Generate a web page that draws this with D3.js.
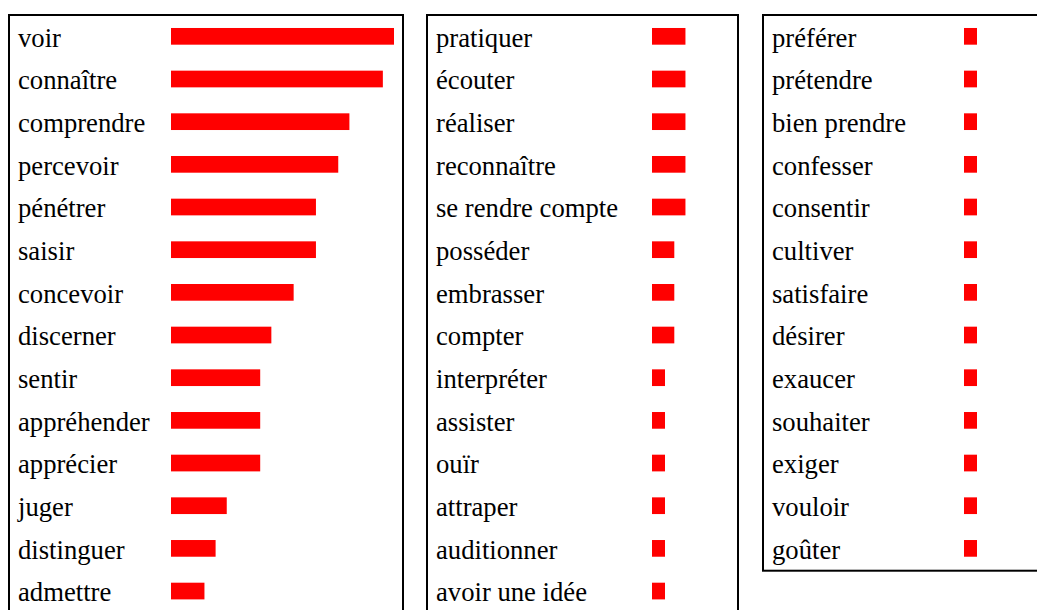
<!DOCTYPE html>
<html>
<head>
<meta charset="utf-8">
<script src="https://cdn.jsdelivr.net/npm/d3@7"></script>
<style>
  html, body { margin: 0; padding: 0; background: #fff; overflow: hidden; }
  text { font-size: 26.67px; fill: #000; }
</style>
</head>
<body>
<div id="chart"></div>
<script>
const words1 = ["voir", "connaître", "comprendre", "percevoir", "pénétrer", "saisir", "concevoir",
  "discerner", "sentir", "appréhender", "apprécier", "juger", "distinguer", "admettre"];
const values1 = [20, 19, 16, 15, 13, 13, 11, 9, 8, 8, 8, 5, 4, 3];

const words2 = ["pratiquer", "écouter", "réaliser", "reconnaître", "se rendre compte", "posséder",
  "embrasser", "compter", "interpréter", "assister", "ouïr", "attraper", "auditionner", "avoir une idée"];
const values2 = [3, 3, 3, 3, 3, 2, 2, 2, 1, 1, 1, 1, 1, 1];

const words3 = ["préférer", "prétendre", "bien prendre", "confesser", "consentir", "cultiver",
  "satisfaire", "désirer", "exaucer", "souhaiter", "exiger", "vouloir", "goûter"];
const values3 = [1, 1, 1, 1, 1, 1, 1, 1, 1, 1, 1, 1, 1];

const width = 1037;
const height = 610;
const rowH = 42.67;
const boxTop = 15;
const barH = 16.7;

const svg = d3.select("#chart")
  .append("svg")
  .attr("width", width)
  .attr("height", height);

// same scale for every panel so bar lengths compare across boxes
const x = d3.scaleLinear().domain([0, 20]).range([0, 223]);

const panels = [
  { words: words1, values: values1, left: 9, w: 394, barX: 162 },
  { words: words2, values: values2, left: 427, w: 311, barX: 225 },
  { words: words3, values: values3, left: 763, w: 300, barX: 201 }
];

panels.forEach(p => {
  const n = p.words.length;
  const y = d3.scaleBand()
    .domain(d3.range(n))
    .range([boxTop, boxTop + n * rowH])
    .padding(0);

  const g = svg.append("g");

  g.append("rect")
    .attr("x", p.left)
    .attr("y", boxTop)
    .attr("width", p.w)
    .attr("height", n * rowH + 1)
    .attr("fill", "none")
    .attr("stroke", "#000")
    .attr("stroke-width", 2);

  g.selectAll("text")
    .data(p.words)
    .join("text")
      .attr("x", p.left + 9)
      .attr("y", (d, i) => y(i) + y.bandwidth() / 2 + 10.3)
      .attr("font-family", "'Liberation Serif', Tinos, 'Times New Roman', Times, 'DejaVu Serif', serif")
      .text(d => d);

  g.selectAll("rect.bar")
    .data(p.values)
    .join("rect")
      .attr("class", "bar")
      .attr("x", p.left + p.barX)
      .attr("y", (d, i) => y(i) + y.bandwidth() / 2 - barH / 2)
      .attr("width", d => Math.max(13, x(d)))
      .attr("height", barH)
      .attr("fill", "#ff0000");
});
</script>
</body>
</html>
